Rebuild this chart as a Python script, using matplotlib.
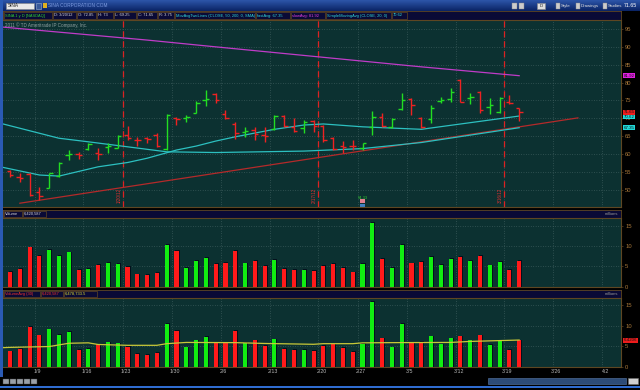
import matplotlib
matplotlib.use("Agg")
import matplotlib.pyplot as plt
import matplotlib.transforms as mtrans
from matplotlib.patches import Rectangle
import numpy as np

plt.rcParams['font.family'] = ['Liberation Sans', 'DejaVu Sans']

# daily bars, SINA 1/4/12 .. 3/20/12
bar_open = [55.3, 53.6, 54.3, 49.4, 50.6, 53.8, 59.7, 59.9, 61.5, 60.4, 62.0, 61.8, 65.3,
            63.9, 64.4, 65.3, 61.3, 70.0, 70.0, 71.6, 75.1, 76.8, 71.2, 68.4, 66.2, 66.7,
            65.3, 66.9, 70.6, 67.5, 67.2, 69.3, 67.8, 64.4, 62.2, 62.2, 61.6, 67.6, 70.3,
            67.5, 72.5, 75.3, 70.0, 69.7, 74.9, 75.3, 80.7, 75.7, 77.4, 73.1, 71.8, 74.5, 72.85]
bar_high = [55.5, 54.6, 54.6, 50.8, 54.8, 57.8, 61.1, 60.6, 63.2, 61.6, 63.0, 65.3, 67.8,
            64.7, 64.8, 65.8, 71.2, 70.4, 70.9, 74.7, 77.9, 77.0, 72.3, 69.0, 67.5, 67.5,
            67.5, 70.9, 70.9, 70.0, 69.5, 69.5, 68.1, 64.7, 63.7, 63.9, 63.2, 72.1, 71.6,
            70.0, 77.0, 75.6, 70.3, 73.7, 75.9, 78.4, 80.9, 77.2, 77.7, 75.6, 75.9, 76.5, 73.0]
bar_low = [53.5, 52.2, 48.2, 47.1, 50.4, 53.6, 58.3, 58.5, 61.1, 58.3, 60.4, 61.6, 63.9,
           62.2, 63.0, 62.0, 61.1, 68.1, 69.0, 71.4, 73.3, 74.2, 69.7, 64.1, 64.7, 63.9,
           63.4, 66.7, 67.5, 66.2, 65.8, 66.2, 63.4, 61.1, 60.4, 61.1, 61.1, 65.3, 67.5,
           67.2, 72.3, 70.9, 67.2, 68.6, 74.3, 74.6, 74.5, 73.9, 71.4, 71.2, 71.6, 74.0, 69.25]
bar_close = [54.1, 53.3, 48.5, 48.2, 54.6, 57.6, 60.0, 59.7, 62.8, 60.0, 62.2, 65.0, 64.4,
             63.8, 64.1, 62.2, 70.9, 69.7, 70.3, 74.2, 75.3, 75.1, 70.0, 65.8, 66.5, 65.6,
             65.0, 70.6, 67.8, 66.5, 69.0, 67.8, 63.9, 61.3, 62.0, 62.1, 63.0, 70.3, 67.8,
             69.7, 75.1, 73.7, 67.5, 72.8, 75.1, 77.4, 74.6, 76.0, 72.3, 73.8, 75.6, 74.2, 71.65]
bar_up = [0, 0, 0, 0, 1, 1, 1, 0, 1, 0, 1, 1, 0, 0, 0, 0, 1, 0, 1, 1, 1, 0, 0, 0, 1, 0, 0,
          1, 0, 0, 1, 0, 0, 0, 0, 0, 1, 1, 0, 1, 1, 0, 0, 1, 1, 1, 0, 1, 0, 1, 1, 0, 0]
volume = [3.7, 4.4, 9.7, 7.6, 9.1, 7.7, 8.5, 4.1, 4.4, 5.4, 5.9, 5.7, 4.9, 3.1, 2.9, 3.4,
          10.4, 8.8, 4.7, 6.4, 7.2, 5.7, 5.9, 8.8, 5.8, 6.4, 5.1, 6.7, 4.4, 4.1, 4.1, 3.9,
          5.1, 5.6, 4.6, 3.6, 5.6, 15.8, 6.9, 4.7, 10.4, 5.8, 6.1, 7.4, 5.4, 6.9, 7.4, 6.4,
          7.6, 5.3, 6.2, 4.1, 6.42]  # millions

# moving averages (bar index, value)
sma20_idx = [-1, 3, 5, 9, 12, 14, 17, 19, 21, 23, 27, 30, 32, 36, 42, 52]
sma20_val = [56.4, 54.1, 53.8, 56.4, 57.6, 58.8, 61.1, 62.2, 63.6, 64.8, 66.9, 68.1, 68.4,
             67.6, 66.9, 70.62]
sma50_idx = [-1, 5, 8, 12, 16, 21, 30, 36, 42, 52]
sma50_val = [68.6, 64.4, 63.4, 62.0, 60.6, 60.4, 60.8, 61.5, 63.2, 67.35]
sma200_idx = [-1, 14, 21, 42, 52]
sma200_val = [95.6, 91.9, 90.0, 84.4, 81.92]
volavg_idx = [-1, 0, 4, 6, 8, 9, 12, 15, 16, 18, 23, 26, 31, 32, 35, 36, 39, 45, 47, 52]
volavg_val = [4.6, 4.7, 4.9, 5.7, 5.8, 5.4, 5.2, 5.2, 5.6, 5.9, 5.85, 5.65, 5.45, 5.6, 5.6,
              5.8, 5.85, 5.9, 6.15, 6.48]
trend_idx = [1, 58]
trend_val = [46.2, 70.1]

week_start = [3, 8, 12, 17, 22, 27, 32, 36, 41, 46, 51, 56, 61]
week_labels = ['1/9', '1/16', '1/23', '1/30', '2/6', '2/13', '2/20', '2/27', '3/5', '3/12',
               '3/19', '3/26', '4/2']
expiry_bar = [11, 31, 50]
expiry_labels = ['1/20/12', '2/17/12', '3/16/12']

W, H = 640, 390
BG = '#0c3131'
GRID = '#4d6b6b'
BORDER = '#5e4622'
TICKC = '#a8783a'
GREEN = '#22dd22'
RED = '#ee2222'
WHITE = '#d8d8d8'
CYAN = '#30d8d8'
XMIN, XMAX = -0.72, 62.4


def rect(x0, y0, x1, y1):
    return [x0 / W, 1 - y1 / H, (x1 - x0) / W, (y1 - y0) / H]


def style_panel(ax, yticks):
    ax.set_facecolor(BG)
    for s in ax.spines.values():
        s.set_color(BORDER)
        s.set_linewidth(0.8)
    ax.spines['left'].set_visible(False)
    ax.set_xlim(XMIN, XMAX)
    ax.set_xticks([w - 0.5 for w in week_start])
    ax.set_yticks(yticks)
    ax.yaxis.tick_right()
    ax.tick_params(axis='y', colors=BORDER, labelcolor=TICKC, labelsize=4.2,
                   length=1.5, width=0.5, pad=1.5)
    ax.tick_params(axis='x', length=0, labelbottom=False)
    ax.grid(True, color=GRID, linestyle=(0, (1, 2.5)), linewidth=0.5)
    ax.set_axisbelow(True)


def header(y0, y1, items):
    # items: (left px, right px, text, colour), each drawn in its own cell
    ax = fig.add_axes(rect(3, y0, 621, y1))
    ax.set_facecolor('#0a0a36')
    for s in ax.spines.values():
        s.set_color(BORDER)
        s.set_linewidth(0.6)
    ax.set_xticks([])
    ax.set_yticks([])
    ax.set_xlim(3, 621)
    ax.set_ylim(0, 1)
    for x0, x1, txt, col in items:
        ax.add_patch(Rectangle((x0, 0.1), x1 - x0, 0.8, fc='none', ec=BORDER, lw=0.5))
        ax.text(x0 + 1.2, 0.5, txt, color=col, fontsize=2.9, va='center', ha='left')
    return ax


fig = plt.figure(figsize=(6.4, 3.9), dpi=100, facecolor='black')

# title bar
ax_t = fig.add_axes(rect(0, 0, 640, 11))
grad = np.linspace(0, 1, 20).reshape(-1, 1)
ax_t.imshow(grad, aspect='auto', cmap=matplotlib.colors.LinearSegmentedColormap.from_list(
    'tb', ['#2c55a8', '#0b2466']), extent=(0, 640, 11, 0))
ax_t.set_xlim(0, 640)
ax_t.set_ylim(11, 0)
ax_t.axis('off')
ax_t.add_patch(Rectangle((6, 2.5), 28, 6.5, fc='#e8e8e8', ec='#888888', lw=0.4))
ax_t.text(8, 5.8, 'SINA', fontsize=3.4, color='#202020', va='center')
ax_t.add_patch(Rectangle((36, 2.5), 5, 6.5, fc='#3a5a9a', ec='#9ab0d0', lw=0.4))
ax_t.add_patch(Rectangle((42.5, 3), 4, 5, fc='#e0b020', ec='none'))
ax_t.text(48, 5.8, 'SINA CORPORATION COM', fontsize=3.4, color='#7d9be0', va='center')
ax_t.add_patch(Rectangle((512, 3), 5, 5.5, fc='#cccccc', ec='#888888', lw=0.3))
ax_t.add_patch(Rectangle((519, 3), 5, 5.5, fc='#cccccc', ec='#888888', lw=0.3))
ax_t.add_patch(Rectangle((537, 3), 8, 5.5, fc='#dddddd', ec='#888888', lw=0.4))
ax_t.text(541, 5.8, 'D', fontsize=3.2, color='#202020', va='center', ha='center')
for x, txt in [(561, 'Style'), (581, 'Drawings'), (608, 'Studies')]:
    ax_t.add_patch(Rectangle((x - 5, 3), 4, 5.5, fc='#cccccc', ec='#888888', lw=0.3))
    ax_t.text(x, 5.8, txt, fontsize=3.2, color='#e0e0e0', va='center')
ax_t.text(624, 5.8, '71.65', fontsize=3.8, color='#ffffff', va='center')

# left blue strip
fig.patches.append(Rectangle((0, 13 / H), 3 / W, 1 - 13 / H, transform=fig.transFigure,
                             fc='#2a5ab4', ec='none'))

# price panel
header(11, 20, [(4, 52, 'SINA 1 y D [NASDAQ]', '#30d030'), (53, 76, 'D: 3/20/12', WHITE),
                (77, 96, 'O: 72.85', WHITE), (97, 113, 'H: 73', WHITE),
                (114, 136, 'L: 69.25', WHITE), (137, 157, 'C: 71.65', WHITE),
                (158, 174, 'R: 3.75', WHITE),
                (175, 255, 'MovAvgTwoLines (CLOSE, 50, 200, 0, SMA)', CYAN),
                (256, 290, 'fastAvg: 67.35', CYAN), (291, 325, 'slowAvg: 81.92', '#e040e0'),
                (326, 391, 'SimpleMovingAvg (CLOSE, 20, 0)', CYAN),
                (392, 407, '70.62', CYAN)])

ax_p = fig.add_axes(rect(3, 20, 621, 207))
style_panel(ax_p, list(range(50, 96, 5)))
ax_p.set_ylim(45.14, 97.52)

idx = np.arange(len(bar_close))
cols = [GREEN if u else RED for u in bar_up]
ax_p.vlines(idx, bar_low, bar_high, colors=cols, lw=1.0, zorder=4)
ax_p.hlines(bar_open, idx - 0.35, idx, colors=cols, lw=1.0, zorder=4)
ax_p.hlines(bar_close, idx, idx + 0.35, colors=cols, lw=1.0, zorder=4)

ax_p.plot(trend_idx, trend_val, color='#b42a2a', lw=0.9, zorder=3)
ax_p.plot(sma200_idx, sma200_val, color='#c03cc8', lw=0.9, zorder=3)
ax_p.plot(sma50_idx, sma50_val, color='#2cc0c0', lw=0.9, zorder=3)
ax_p.plot(sma20_idx, sma20_val, color='#2cc0c0', lw=0.9, zorder=3)

for b, lab in zip(expiry_bar, expiry_labels):
    ax_p.axvline(b + 0.5, color='#dd2222', lw=0.9, ls=(0, (5, 3)), zorder=2)
    ax_p.text(b + 0.1, 48.4, lab, rotation=90, fontsize=3.3, color='#e03030',
              ha='center', va='center')

ax_p.text(0.004, 0.985, '2011 \u00a9 TD Ameritrade IP Company, Inc.', transform=ax_p.transAxes,
          fontsize=3.3, color='#8fa0a0', va='top', ha='left')
ax_p.text(36, 47.7, '54.33', fontsize=3.0, color='#30c030', ha='center', va='center')
ax_p.add_patch(Rectangle((35.75, 46.3), 0.5, 1.0, fc='#e08090', ec='none'))
ax_p.add_patch(Rectangle((35.75, 44.6), 0.5, 1.3, fc='#4080c0', ec='none'))

tr = mtrans.blended_transform_factory(ax_p.transAxes, ax_p.transData)
for val, txt, fc in [(81.92, '81.92', '#e020e0'), (70.4, '70.62', '#20d8d8'),
                     (71.65, '71.65', '#ee1c1c'), (67.35, '67.35', '#20d8d8')]:
    ax_p.text(1.004, val, txt, transform=tr, fontsize=3.2, color='#101010', va='center',
              ha='left', clip_on=False,
              bbox=dict(boxstyle='square,pad=0.15', fc=fc, ec='none'))


def volume_bars(ax):
    vcols = ['#11ee11' if u else '#ff1a1a' for u in bar_up]
    ax.bar(idx + 0.1, np.array(volume) + 0.15, width=0.42, color='#04101c', zorder=3)
    ax.bar(idx, volume, width=0.42, color=vcols, zorder=4)


# volume panel
hv = header(210, 218, [(4, 22, 'Volume', WHITE), (23, 46, '6,420,587', WHITE)])
hv.text(618, 0.5, 'millions', fontsize=3.0, color='#9a9a9a', ha='right', va='center')
ax_v = fig.add_axes(rect(3, 218, 621, 287))
style_panel(ax_v, [0, 5, 10, 15])
ax_v.set_ylim(-0.07, 16.96)
volume_bars(ax_v)

# volume average panel
ha = header(290, 298, [(4, 40, 'VolumeAvg (30)', '#ee3030'),
                       (41, 63, '6,420,587', '#ee3030'),
                       (64, 97, '6,478,733.5', '#e0e030')])
ha.text(618, 0.5, 'millions', fontsize=3.0, color='#9a9a9a', ha='right', va='center')
ax_a = fig.add_axes(rect(3, 298, 621, 367))
style_panel(ax_a, [0, 5, 10, 15])
ax_a.set_ylim(-0.07, 16.7)
volume_bars(ax_a)
ax_a.plot(volavg_idx, volavg_val, color='#c8c838', lw=0.9, zorder=5)
tra = mtrans.blended_transform_factory(ax_a.transAxes, ax_a.transData)
ax_a.text(1.004, 6.42, '6.4206', transform=tra, fontsize=3.2, color='#101010', va='center',
          ha='left', clip_on=False, bbox=dict(boxstyle='square,pad=0.15', fc='#ee1c1c', ec='none'))

# date labels below the last panel
trx = mtrans.blended_transform_factory(ax_a.transData, ax_a.transAxes)
for w, lab in zip(week_start, week_labels):
    ax_a.text(w - 0.2, -0.07, lab, transform=trx, fontsize=3.8, color='#b8b8b8',
              ha='center', va='center', clip_on=False)

# bottom strip: tool icons, scrollbar, blue rule
ax_b = fig.add_axes(rect(0, 377, 640, 390))
ax_b.set_xlim(0, 640)
ax_b.set_ylim(13, 0)
ax_b.axis('off')
for x in [3, 10, 17, 24, 31]:
    ax_b.add_patch(Rectangle((x, 1.5), 6, 5.5, fc='#9aa0a8', ec='#404040', lw=0.3))
ax_b.add_patch(Rectangle((488, 1.2), 138, 6, fc='#2d4c78', ec='#5a7aa8', lw=0.4))
ax_b.add_patch(Rectangle((628, 1.2), 10, 6, fc='#d0d0d0', ec='#707070', lw=0.4))
ax_b.add_patch(Rectangle((0, 9), 640, 2, fc='#2f6cd0', ec='none'))

fig.savefig('out.png', dpi=100, facecolor='black')
